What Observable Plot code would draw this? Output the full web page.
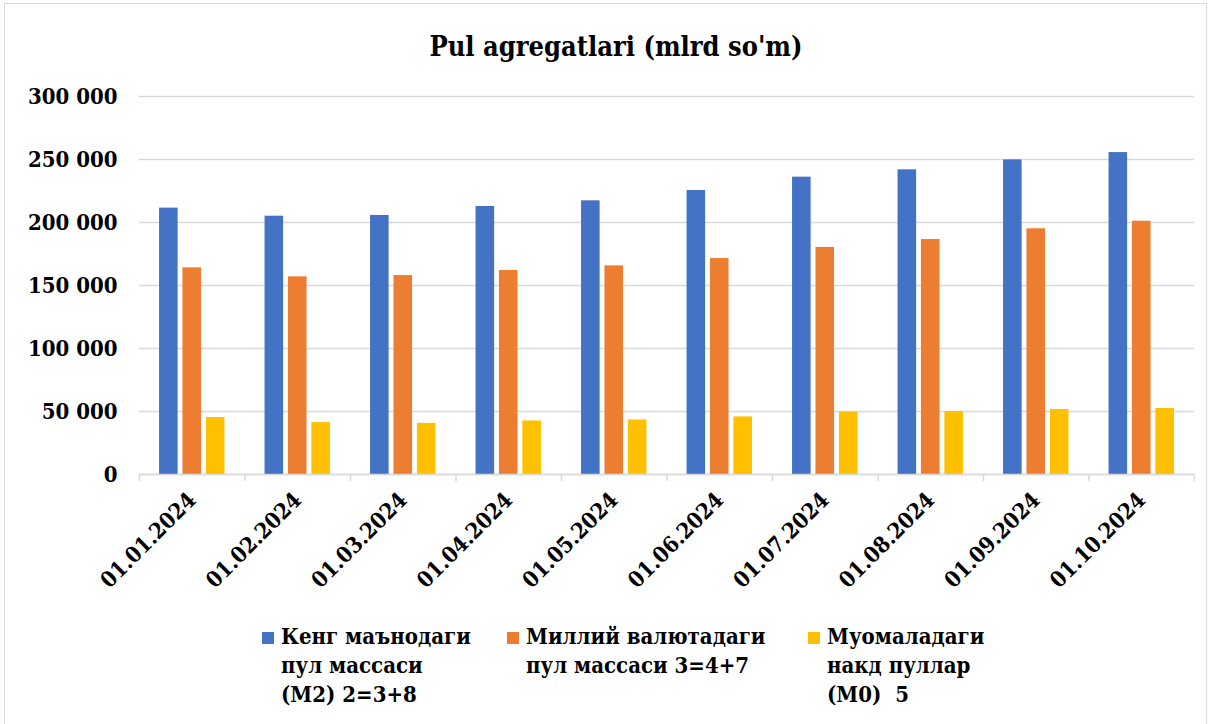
<!DOCTYPE html>
<html>
<head>
<meta charset="utf-8">
<script src="https://cdn.jsdelivr.net/npm/d3@7"></script>
<script src="https://cdn.jsdelivr.net/npm/@observablehq/plot@0.6"></script>
<style>
  html, body { margin: 0; padding: 0; background: #fff; }
  body { width: 1212px; height: 724px; position: relative; overflow: hidden;
         font-family: "DejaVu Serif Condensed", "DejaVu Serif", serif; font-stretch: condensed; }
  #frame { position: absolute; left: 4px; top: 3px; width: 1203px; height: 730px;
           border: 1px solid #d9d9d9; box-sizing: border-box; }
  #title { position: absolute; left: 0; width: 1232px; top: 31px; text-align: center;
           font-weight: bold; font-size: 27px; color: #000; }
  #chart { position: absolute; left: 0; top: 0; }
  #legend { position: absolute; top: 622px; left: 0; width: 1212px; }
  .item { position: absolute; top: 0; font-weight: bold; font-size: 22px; line-height: 29px; color: #000; }
  .sw { position: absolute; left: -19px; top: 10px; width: 12px; height: 12px; }
</style>
</head>
<body>
<div id="frame"></div>
<div id="title">Pul agregatlari (mlrd so'm)</div>
<div id="chart"></div>
<div id="legend"></div>
<script>
const dates = ["01.01.2024","01.02.2024","01.03.2024","01.04.2024","01.05.2024",
               "01.06.2024","01.07.2024","01.08.2024","01.09.2024","01.10.2024"];
const m2 = [211400, 205000, 205600, 212700, 217200, 225400, 236000, 241800, 249700, 255500];
const national = [164000, 156900, 157900, 161900, 165600, 171400, 180200, 186500, 195000, 201000];
const m0 = [45200, 41200, 40600, 42500, 43300, 45700, 49500, 50000, 51600, 52400];
const seriesNames = ["Кенг маънодаги\nпул массаси\n(М2) 2=3+8",
                     "Миллий валютадаги\nпул массаси 3=4+7",
                     "Муомаладаги\nнакд пуллар\n(М0)  5"];
const colors = ["#4472C4", "#ED7D31", "#FFC000"];
const yTicks = [0, 50000, 100000, 150000, 200000, 250000, 300000];

// grouped layout within each category band (fractions of the band)
const groupStart = 0.19, barW = 0.176, barStep = 0.222;
const seriesValues = [m2, national, m0];
const rows = [];
seriesValues.forEach((vals, s) => vals.forEach((v, i) => {
  const x1 = i + groupStart + s * barStep;
  rows.push({series: seriesNames[s], s, date: dates[i], i, x1, x2: x1 + barW, value: v});
}));

const fontFam = getComputedStyle(document.body).fontFamily;
const fmt = d => d3.format(",")(d).replace(/,/g, " ");

const plot = Plot.plot({
  width: 1212,
  height: 620,
  marginLeft: 139,
  marginRight: 18,
  marginTop: 96,
  marginBottom: 146,
  style: {fontFamily: fontFam, fontSize: "22px", fontWeight: "bold", color: "#000", background: "transparent"},
  x: {type: "linear", domain: [0, dates.length]},
  y: {domain: [0, 300000]},
  color: {domain: seriesNames, range: colors},
  marks: [
    Plot.gridY(yTicks, {stroke: "#d9d9d9", strokeOpacity: 1, strokeWidth: 1.5}),
    Plot.axisY(yTicks, {tickSize: 0, tickPadding: 22, tickFormat: fmt, fill: "#000", fontWeight: "bold", label: null}),
    Plot.rectY(rows, {x1: "x1", x2: "x2", y: "value", fill: "series"}),
    Plot.axisX(d3.range(dates.length + 1), {tickSize: 7, tickFormat: () => "", stroke: "#d9d9d9", strokeWidth: 1.5, strokeOpacity: 1, label: null}),
    Plot.ruleY([0], {stroke: "#d9d9d9", strokeWidth: 1.5}),
    Plot.axisX(dates.map((d, i) => i + 0.5), {tickSize: 0, tickPadding: 22, tickRotate: -45, fontSize: 22,
      tickFormat: v => dates[Math.floor(v)], fill: "#000", fontWeight: "bold", label: null})
  ]
});
document.getElementById("chart").appendChild(plot);

const legendX = [281, 526, 827];
const legend = document.getElementById("legend");
seriesNames.forEach((name, s) => {
  const item = document.createElement("div");
  item.className = "item";
  item.style.left = legendX[s] + "px";
  const sw = document.createElement("div");
  sw.className = "sw";
  sw.style.background = colors[s];
  item.appendChild(sw);
  name.split("\n").forEach(line => {
    const l = document.createElement("div");
    l.textContent = line;
    l.style.whiteSpace = "pre";
    item.appendChild(l);
  });
  legend.appendChild(item);
});
</script>
</body>
</html>
